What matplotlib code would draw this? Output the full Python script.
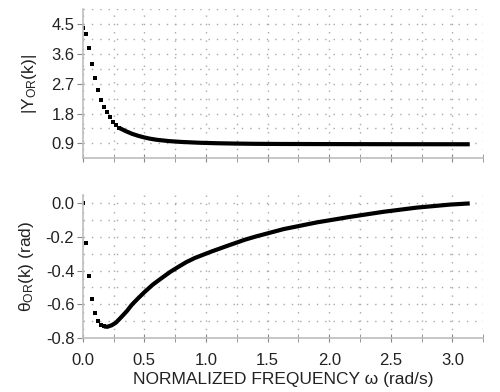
import matplotlib
matplotlib.use("Agg")
from matplotlib import pyplot as plt
from matplotlib.ticker import MultipleLocator

plt.rcParams['font.family'] = ['Liberation Sans', 'DejaVu Sans']
plt.rcParams['mathtext.fontset'] = 'custom'
plt.rcParams['mathtext.rm'] = 'Liberation Sans'
plt.rcParams['mathtext.it'] = 'Liberation Sans'

# magnitude |Y_OR(k)|
omega_mag = [0.000, 0.025, 0.049, 0.074, 0.098, 0.123, 0.147, 0.172, 0.196, 0.221, 0.245,
             0.270, 0.294, 0.30, 0.35, 0.40, 0.45, 0.50, 0.55, 0.60, 0.70, 0.80, 0.95,
             1.10, 1.25, 1.40, 1.60, 1.90, 2.20, 2.50, 2.80, 3.14]
mag = [4.39, 4.21, 3.77, 3.29, 2.86, 2.50, 2.22, 2.00, 1.85, 1.69, 1.56,
       1.46, 1.38, 1.36, 1.27, 1.19, 1.13, 1.08, 1.04, 1.01, 0.97, 0.945, 0.92,
       0.905, 0.895, 0.888, 0.884, 0.881, 0.879, 0.877, 0.876, 0.875]

# phase theta_OR(k)
omega_ph = [0.000, 0.025, 0.049, 0.074, 0.098, 0.123, 0.147, 0.172,
            0.20, 0.235, 0.27, 0.316, 0.36, 0.397, 0.45, 0.506, 0.57, 0.64, 0.71,
            0.776, 0.84, 0.91, 0.98, 1.047, 1.18, 1.317, 1.40, 1.63, 1.90, 2.17,
            2.44, 2.71, 2.98, 3.14]
phase = [0.000, -0.235, -0.431, -0.567, -0.653, -0.699, -0.722, -0.733,
         -0.735, -0.726, -0.71, -0.675, -0.64, -0.605, -0.565, -0.525, -0.483, -0.445, -0.408,
         -0.378, -0.35, -0.325, -0.305, -0.286, -0.251, -0.216, -0.198, -0.153, -0.113, -0.08,
         -0.05, -0.025, -0.007, 0.0]

N_DOTS_MAG = 13   # sparse samples drawn as separate dots
N_DOTS_PH = 8

fig = plt.figure(figsize=(5.0, 3.92), dpi=100)
ax1 = fig.add_axes([0.1654, 0.596, 0.8012, 0.381])
ax2 = fig.add_axes([0.1654, 0.1385, 0.8012, 0.364], sharex=ax1)


def style(ax):
    for s in ['top', 'right']:
        ax.spines[s].set_visible(False)
    for s in ['left', 'bottom']:
        ax.spines[s].set_color('#bdbdbd')
        ax.spines[s].set_linewidth(1.2)
    ax.xaxis.set_major_locator(MultipleLocator(0.5))
    ax.xaxis.set_minor_locator(MultipleLocator(0.25))
    ax.tick_params(axis='x', which='both', direction='inout', length=6,
                   color='#888888', labelsize=12, labelcolor='#222222', pad=8)
    ax.tick_params(axis='y', which='major', direction='out', length=4,
                   color='#888888', labelsize=12, labelcolor='#222222', pad=2)
    ax.tick_params(axis='y', which='minor', length=0)
    ax.grid(True, which='both', color='#a8a8a8', linestyle=(0, (1, 5)), linewidth=1.0)
    ax.set_axisbelow(True)


ax1.plot(omega_mag[:N_DOTS_MAG], mag[:N_DOTS_MAG], 's', color='black', ms=2.8, mew=0)
ax1.plot(omega_mag[N_DOTS_MAG - 1:], mag[N_DOTS_MAG - 1:], '-', color='black', lw=3.0,
         solid_capstyle='butt')
ax1.set_xlim(0, 3.25)
ax1.set_ylim(0.45, 4.95)
ax1.yaxis.set_major_locator(MultipleLocator(0.9))
ax1.yaxis.set_minor_locator(MultipleLocator(0.45))
style(ax1)
ax1.tick_params(axis='x', labelbottom=False)
ax1.set_ylabel('|Y$_{\\mathregular{OR}}$(k)|', fontsize=12.5, color='#222222', labelpad=9)

ax2.plot(omega_ph[:N_DOTS_PH], phase[:N_DOTS_PH], 's', color='black', ms=2.8, mew=0)
ax2.plot(omega_ph[N_DOTS_PH - 1:], phase[N_DOTS_PH - 1:], '-', color='black', lw=3.0,
         solid_capstyle='butt')
ax2.set_ylim(-0.8, 0.05)
ax2.yaxis.set_major_locator(MultipleLocator(0.2))
ax2.yaxis.set_minor_locator(MultipleLocator(0.1))
style(ax2)
ax2.set_yticks([0.0, -0.2, -0.4, -0.6, -0.8])
ax2.set_yticklabels(['0.0', '-0.2', '-0.4', '-0.6', '-0.8'])
ax2.set_ylabel('θ$_{\\mathregular{OR}}$(k) (rad)', fontsize=12.5, color='#222222', labelpad=7)
ax2.set_xlabel('NORMALIZED FREQUENCY ω (rad/s)', fontsize=12.5, color='#222222', labelpad=3)

fig.align_ylabels([ax1, ax2])
fig.savefig('out.png', dpi=100)
